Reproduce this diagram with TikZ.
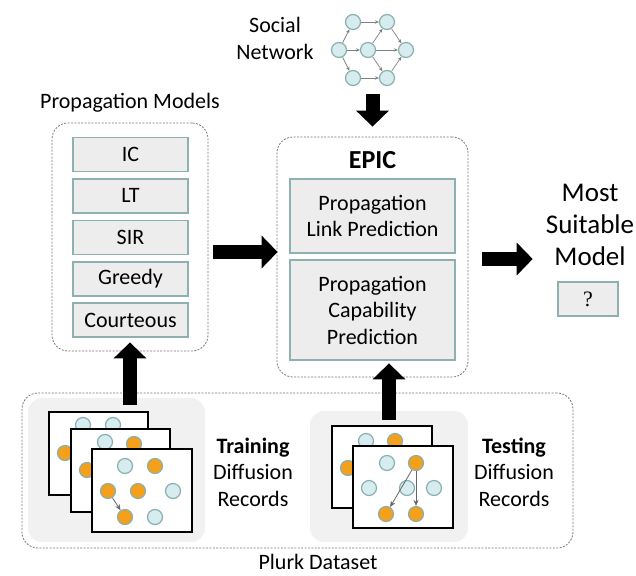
\documentclass[tikz,border=0pt]{standalone}
\usepackage{fontspec}
\setmainfont{Carlito}
\newfontfamily\qmarkfont{Liberation Serif}
\usetikzlibrary{arrows.meta, positioning}

\definecolor{boxfill}{RGB}{237,237,237}
\definecolor{boxline}{RGB}{143,176,176}
\definecolor{dotblue}{RGB}{214,236,239}
\definecolor{dotline}{RGB}{138,175,176}
\definecolor{dotorange}{RGB}{245,160,26}
\definecolor{areagray}{RGB}{241,241,241}
\definecolor{dashgray}{RGB}{120,120,120}

\begin{document}
\begin{tikzpicture}[x=1pt,y=-1pt,
    txt/.style={font=\fontsize{22}{26.5}\selectfont, align=center, inner sep=0pt},
    bigtxt/.style={font=\fontsize{27}{32}\selectfont, align=center, inner sep=0pt},
    modelbox/.style={draw=boxline, fill=boxfill, line width=1.6pt, txt,
        minimum width=115pt, minimum height=34pt},
    groupbox/.style={draw=dashgray, line width=0.8pt, dash pattern=on 2pt off 1.4pt,
        rounded corners=16pt},
    area/.style={fill=areagray, rounded corners=14pt},
    record/.style={draw=black, fill=white, line width=1.8pt,
        minimum width=99pt, minimum height=83pt, inner sep=0pt},
    ldot/.style={circle, fill=dotblue, draw=dotline, line width=1.2pt,
        minimum size=15pt, inner sep=0pt},
    odot/.style={ldot, fill=dotorange},
    netedge/.style={draw=gray, line width=0.7pt, -{Stealth[length=4pt,width=3.5pt]}},
    flow/.style={draw=gray!80!black, line width=0.8pt, -{Stealth[length=6pt,width=5pt]}},
    fat/.style={line width=14pt, -{Triangle[length=16pt,width=32pt]}}
  ]

  \useasboundingbox (0,0) rectangle (636,575);

  % social network
  \node[txt] (social) at (275,38.5) {Social\\Network};
  \node[ldot] (n1) at (339,50) {};
  \node[ldot] (n2) at (353,22) {};
  \node[ldot] (n3) at (387,22) {};
  \node[ldot] (n4) at (368,50) {};
  \node[ldot] (n5) at (406,50) {};
  \node[ldot] (n6) at (353,78) {};
  \node[ldot] (n7) at (387,78) {};
  \foreach \a/\b in {n1/n2, n1/n4, n1/n6, n2/n3, n6/n7, n3/n5, n4/n5, n4/n3, n4/n7, n7/n5}
    \draw[netedge] (\a) -- (\b);

  % propagation models
  \node[txt] (modelslbl) at (130,103) {Propagation Models};
  \node[groupbox, minimum width=156pt, minimum height=228pt] (models) at (130,237) {};
  \foreach \name/\lbl [count=\i] in {ic/IC, lt/LT, sir/SIR, greedy/Greedy, court/Courteous}
    \node[modelbox] (\name) at (130.5,{154.5+41.4*(\i-1)}) {\lbl};

  % EPIC
  \node[groupbox, minimum width=191pt, minimum height=240pt] (epic) at (372.5,257) {};
  \node[txt, font=\fontsize{26}{30}\selectfont\bfseries] (epiclbl) at (372.5,160) {EPIC};
  \node[modelbox, minimum width=165pt, minimum height=74pt] (linkpred) at (372.5,216)
    {Propagation\\Link Prediction};
  \node[modelbox, minimum width=165pt, minimum height=100pt] (cappred) at (372.5,310)
    {Propagation\\Capability\\Prediction};

  % result
  \node[bigtxt] (result) at (590,225) {Most\\Suitable\\Model};
  \node[modelbox, minimum width=60pt, minimum height=34pt, font=\qmarkfont\fontsize{22}{26}\selectfont]
    (answer) at (588,299) {?};

  % plurk dataset
  \node[groupbox, minimum width=551pt, minimum height=155pt] (plurk) at (297.5,470.5) {};
  \node[txt] (plurklbl) at (318,562) {Plurk Dataset};

  % training records
  \node[area, minimum width=177pt, minimum height=144pt] (trainarea) at (116.5,470) {};
  \node[record] (tr1) at (98.5,453.5) {};
  \node[ldot] (a1) at (83,425) {};
  \node[ldot] (a2) at (113,425) {};
  \node[odot] (a3) at (65,453) {};
  \node[record] (tr2) at (120.5,470.5) {};
  \node[ldot] (b1) at (105,442) {};
  \node[odot] (b2) at (134,444) {};
  \node[odot] (b3) at (87,470) {};
  \node[record, minimum width=100pt] (tr3) at (142,490.5) {};
  \node[ldot] (c1) at (125,466) {};
  \node[odot] (c2) at (155,466) {};
  \node[odot] (c3) at (108,491) {};
  \node[odot] (c4) at (138,491) {};
  \node[ldot] (c5) at (173,491) {};
  \node[odot] (c6) at (125,517) {};
  \node[ldot] (c7) at (155,517) {};
  \draw[flow] (c3) -- (c6);
  \node[txt] (trainlbl) at (253,472) {\textbf{Training}\\Diffusion\\Records};

  % testing records
  \node[area, minimum width=158pt, minimum height=131pt] (testarea) at (389,476.5) {};
  \node[record, minimum width=100pt, minimum height=82pt] (te1) at (382,467) {};
  \node[ldot] (d1) at (366,441) {};
  \node[odot] (d2) at (395,441) {};
  \node[odot] (d3) at (348,468) {};
  \node[record, minimum width=100pt, minimum height=82pt] (te2) at (403,487) {};
  \node[ldot] (e1) at (387,463) {};
  \node[odot] (e2) at (416,463) {};
  \node[ldot] (e3) at (369,488) {};
  \node[ldot] (e4) at (407,488) {};
  \node[ldot] (e5) at (434,488) {};
  \node[odot] (e6) at (386,514) {};
  \node[odot] (e7) at (416,514) {};
  \draw[flow] (e2) -- (e6);
  \draw[flow] (e2) -- (e7);
  \node[txt] (testlbl) at (514,472) {\textbf{Testing}\\Diffusion\\Records};

  % big arrows
  \draw[fat, shorten <=7.5pt, shorten >=10pt] (n7.south -| epic.north) -- (epic.north);
  \draw[fat, shorten <=5pt, shorten >=-1pt] ([yshift=-15pt]models.east) -- ([yshift=-15pt]models.east -| epic.west);
  \draw[fat, shorten <=14pt, shorten >=13pt] ([yshift=-2pt]epic.east) -- ([yshift=-2pt]epic.east -| result.west);
  \draw[fat, shorten <=-7pt, shorten >=-9pt] (trainarea.north -| models.south) -- (models.south);
  \draw[fat, shorten <=-9pt, shorten >=-14pt] (testarea.north) -- (testarea.north |- epic.south);
\end{tikzpicture}
\end{document}
